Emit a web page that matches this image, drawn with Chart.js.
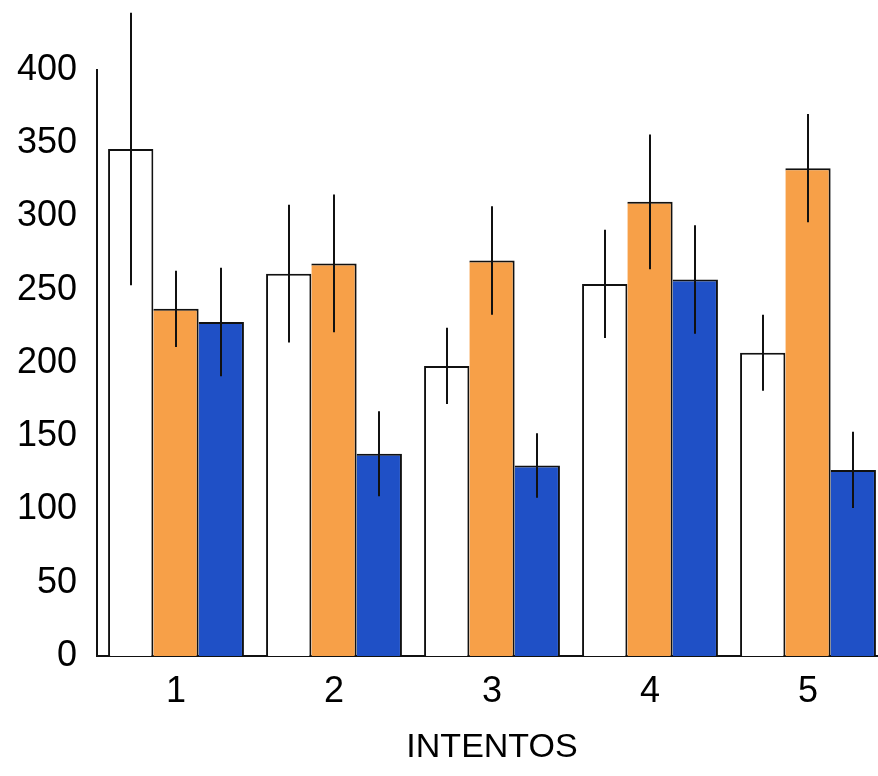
<!DOCTYPE html>
<html>
<head>
<meta charset="utf-8">
<script src="https://cdn.jsdelivr.net/npm/chart.js@4/dist/chart.umd.min.js"></script>
<style>
  html, body { margin: 0; padding: 0; background: #fff; overflow: hidden; width: 878px; height: 776px; }
  canvas { display: block; }
</style>
</head>
<body>
<canvas id="c" width="890" height="776"></canvas>
<script>
// ---- data ----
const categories = ["1", "2", "3", "4", "5"];
const whiteValues  = [346, 261, 198, 254, 207];
const whiteErrors  = [93, 47, 26, 37, 26];
const orangeValues = [237, 268, 270, 310, 333];
const orangeErrors = [26, 47, 37, 46, 37];
const blueValues   = [228, 138, 130, 257, 127];
const blueErrors   = [37, 29, 22, 37, 26];
const yTicks = [0, 50, 100, 150, 200, 250, 300, 350, 400];
const xTitle = "INTENTOS";

const errorSets = [whiteErrors, orangeErrors, blueErrors];

const errorBarPlugin = {
  id: 'errorBars',
  afterDatasetsDraw(chart) {
    const ctx = chart.ctx;
    const yScale = chart.scales.y;
    ctx.save();
    ctx.strokeStyle = '#111';
    ctx.lineWidth = 2;
    chart.data.datasets.forEach((ds, di) => {
      const meta = chart.getDatasetMeta(di);
      meta.data.forEach((bar, i) => {
        const v = ds.data[i];
        const e = errorSets[di][i];
        const x = Math.round(bar.x);
        ctx.beginPath();
        ctx.moveTo(x, yScale.getPixelForValue(v + e));
        ctx.lineTo(x, yScale.getPixelForValue(v - e));
        ctx.stroke();
      });
    });
    ctx.restore();
  }
};

new Chart(document.getElementById('c'), {
  type: 'bar',
  data: {
    labels: categories,
    datasets: [
      { data: whiteValues, backgroundColor: '#ffffff', borderColor: '#111',
        borderWidth: { left: 2, right: 2, top: 2, bottom: 0 }, borderSkipped: false },
      { data: orangeValues, backgroundColor: '#F7A048', borderColor: '#111',
        borderWidth: { left: 0, right: 2, top: 2, bottom: 0 }, borderSkipped: false },
      { data: blueValues, backgroundColor: '#1F50C6', borderColor: '#111',
        borderWidth: { left: 0, right: 2, top: 2, bottom: 0 }, borderSkipped: false }
    ]
  },
  options: {
    responsive: false,
    animation: false,
    devicePixelRatio: 1,
    categoryPercentage: 0.86,
    barPercentage: 1.0,
    layout: { padding: { top: 70, right: 3, left: 0, bottom: 0 } },
    plugins: { legend: { display: false }, tooltip: { enabled: false } },
    scales: {
      x: {
        grid: { display: false, drawTicks: false },
        border: { display: true, color: '#111', width: 2 },
        ticks: { color: '#000', font: { family: 'Liberation Sans', size: 36 }, padding: 14 },
        title: { display: true, text: xTitle, color: '#000',
                 font: { family: 'Liberation Sans', size: 34 }, padding: { top: 4, bottom: 8 } },
        afterFit(scale) { scale.height = 120; }
      },
      y: {
        min: 0, max: 400,
        grid: { display: false, drawTicks: false },
        border: { display: true, color: '#111', width: 2 },
        afterBuildTicks(scale) { scale.ticks = yTicks.map(v => ({ value: v })); },
        ticks: { color: '#000', font: { family: 'Liberation Sans', size: 36 }, padding: 20 },
        afterFit(scale) { scale.width = 97; }
      }
    }
  },
  plugins: [errorBarPlugin]
});
</script>
</body>
</html>
